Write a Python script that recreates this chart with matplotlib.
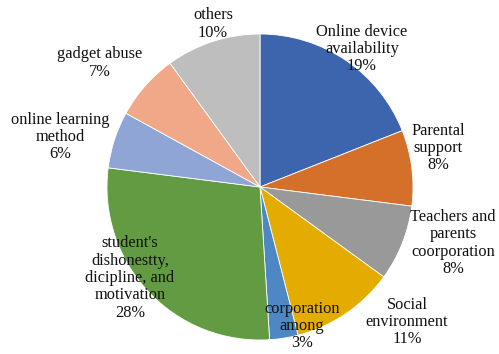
import matplotlib.pyplot as plt

plt.rcParams['font.family'] = ['Liberation Serif', 'DejaVu Serif']

categories = ["Online device\navailability", "Parental\nsupport",
              "Teachers and\nparents\ncoorporation", "Social\nenvironment",
              "corporation\namong", "student's\ndishonestty,\ndicipline, and\nmotivation",
              "online learning\nmethod", "gadget abuse", "others"]
values = [19, 8, 8, 11, 3, 28, 6, 7, 10]
colors = ["#3D65AE", "#D5702B", "#999999", "#E5AC00", "#4D88C4",
          "#629B41", "#8FA5D6", "#F0A888", "#BEBEBE"]

# label block centres in pixels (x from left, y from top)
label_px = [(362, 49), (438, 148), (453, 243), (407, 322), (302, 326),
            (130, 278), (60, 137), (100, 63), (213, 24)]

W, H = 499, 354
cx, cy, r = 260, 187, 153

fig = plt.figure(figsize=(W / 100, H / 100), dpi=100)
ax = fig.add_axes([0, 0, 1, 1])
ax.axis('off')

ax.pie(values, colors=colors, startangle=90, counterclock=False, radius=1,
       wedgeprops=dict(edgecolor='white', linewidth=0.6))
ax.set_xlim(-cx / r, (W - cx) / r)
ax.set_ylim(-(H - cy) / r, cy / r)
ax.set_aspect('auto')

for name, v, (px, py) in zip(categories, values, label_px):
    ax.text((px - cx) / r, (cy - py) / r, f"{name}\n{v}%", ha='center', va='center',
            fontsize=11.8, linespacing=1.12, color='#111111')

fig.savefig("out.png", dpi=100)
